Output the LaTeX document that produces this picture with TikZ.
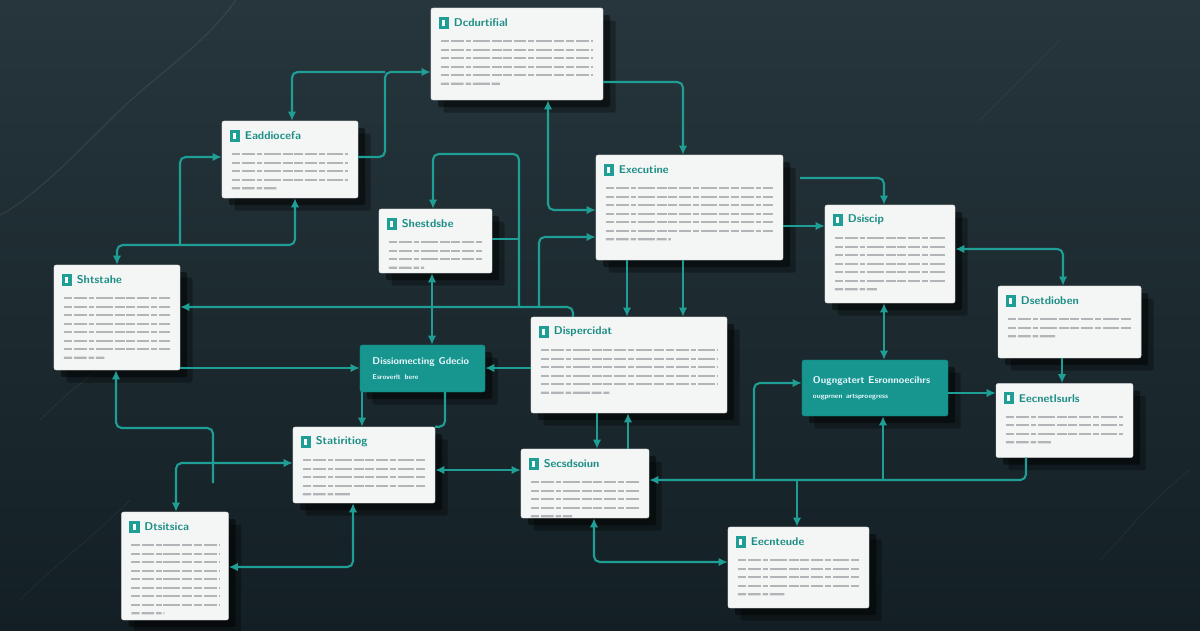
\documentclass[tikz,border=0pt]{standalone}
\usepackage{tikz}
\usetikzlibrary{arrows.meta,positioning,calc,shadows,backgrounds}
\definecolor{bgtop}{RGB}{38,54,60}
\definecolor{bgbot}{RGB}{19,31,36}
\definecolor{tealline}{RGB}{30,158,148}
\definecolor{tealbox}{RGB}{22,150,143}
\definecolor{cardwhite}{RGB}{244,245,245}
\definecolor{bodygray}{RGB}{178,181,183}

\begin{document}
\begin{tikzpicture}[
    x=0.025cm, y=-0.025cm,
    >={Latex[length=6.5pt,width=6pt]},
    font=\bfseries\footnotesize\sffamily,
    card/.style={
		rectangle,
		rounded corners=1.5pt,
		fill=cardwhite,
		draw=black!15,
		line width=0.3pt,
		inner sep=0pt,
		drop shadow={shadow xshift=9pt, shadow yshift=-9pt, opacity=0.3, fill=black},
		drop shadow={shadow xshift=5pt, shadow yshift=-5pt, opacity=0.45, fill=black}
	},
    tealcard/.style={
		card,
		fill=tealbox,
		draw=tealbox!80!black,
		text=cyan!8,
		align=left,
		inner sep=0pt
	},
    cardicon/.style={
		rectangle,
		fill=tealline,
		minimum width=7.5pt,
		minimum height=8.5pt,
		inner sep=0pt,
		path picture={\fill[white] ([xshift=-1pt,yshift=-2pt]path picture bounding box.center) rectangle ++(2pt,4pt);}
	},
    cardtitle/.style={
		text=tealline!90!black,
		inner sep=0pt,
		anchor=west
	},
    bodyline/.style={
		draw=bodygray,
		line width=1.5pt,
		dash pattern=on 6pt off 1.3pt on 9pt off 1.3pt on 4pt off 1.3pt on 12pt off 1.3pt on 7pt off 1.3pt
	},
    link/.style={
		draw=tealline,
		line width=1.5pt,
		rounded corners=4pt
	}
  ]
    % background and a few scratches
  \useasboundingbox (0,0) rectangle (1200,630);
  \shade[top color=bgtop, bottom color=bgbot] (0,0) rectangle (1200,630);
  \draw[white, opacity=0.08, line width=0.8pt] (236,0) .. controls (200,50) and (160,70) .. (110,120) .. controls (70,160) and (30,200) .. (0,215);
  \draw[white, opacity=0.06, line width=0.6pt] (40,420) .. controls (80,380) and (110,360) .. (160,330);
  \draw[white, opacity=0.06, line width=0.6pt] (980,120) .. controls (1010,90) and (1030,70) .. (1060,40);
  \draw[white, opacity=0.05, line width=0.6pt] (1100,560) .. controls (1130,530) and (1150,500) .. (1190,470);
  \draw[white, opacity=0.05, line width=0.6pt] (20,600) .. controls (60,560) and (90,540) .. (130,500);

    % the cards
  \node [card, minimum width=4.3cm, minimum height=2.3cm] (A) at (517,54) {};
  \node [card, minimum width=3.4cm, minimum height=1.925cm] (B) at (290,159.5) {};
  \node [card, minimum width=3.15cm, minimum height=2.625cm] (C) at (117,317.5) {};
  \node [card, minimum width=2.825cm, minimum height=1.6cm] (D) at (435.5,241) {};
  \node [card, minimum width=4.675cm, minimum height=2.625cm] (E) at (689.5,207.5) {};
  \node [card, minimum width=3.25cm, minimum height=2.45cm] (F) at (890,254) {};
  \node [card, minimum width=3.575cm, minimum height=1.8cm] (G) at (1069.5,322) {};
  \node [card, minimum width=4.9cm, minimum height=2.4cm] (I) at (629,365) {};
  \node [card, minimum width=3.425cm, minimum height=1.85cm] (K) at (1064.5,420.5) {};
  \node [card, minimum width=3.55cm, minimum height=1.9cm] (L) at (364,465) {};
  \node [card, minimum width=3.2cm, minimum height=1.725cm] (M) at (585,483.5) {};
  \node [card, minimum width=2.675cm, minimum height=2.7cm] (N) at (175,566) {};
  \node [card, minimum width=3.525cm, minimum height=2.025cm] (O) at (798.5,567.5) {};

  \node [tealcard, minimum width=3.125cm, minimum height=1.175cm, text width=2.5cm] (H) at (422.5,368.5)
 {%
  \scriptsize Dissiomecting Gdecio\\[1pt]
  \tiny Esroverlt bere
 };
  \node [tealcard, minimum width=3.65cm, minimum height=1.4cm, text width=3.1cm] (J) at (875,388)
 {%
  \scriptsize Ougngatert Esronnoecihrs\\[1pt]
  \tiny ougprnen artsproegress
 };

    % icon, title and text lines of each card
  \foreach \n/\t/\k in {A/Dcdurtifial/6, B/Eaddiocefa/5, C/Shtstahe/8, D/Shestdsbe/4,
      E/Executine/7, F/Dsiscip/7, G/Dsetdioben/3, I/Dispercidat/6, K/Eecnetlsurls/4,
      L/Statiritiog/5, M/Secsdsoiun/5, N/Dtsitsica/9, O/Eecnteude/5}{
    \node [cardicon] (\n-ic) at ($(\n.north west)+(13,15)$) {};
    \node [cardtitle, right=3pt of \n-ic] {\t};
    \foreach \i in {1,...,\k}{
      \ifnum\i<\k
        \draw [bodyline] ($(\n.north west)+(10,{25+8.5*\i})$) -- ($(\n.north east)+(-10,{25+8.5*\i})$);
      \else
        \draw [bodyline] ($(\n.north west)+(10,{25+8.5*\i})$) -- ($(\n.north west)!0.4!(\n.north east)+(0,{25+8.5*\i})$);
      \fi
    }
  }

    % connectors
  \coordinate (jab) at (385,72);
  \draw [link,->] (B.east |- 0,157) -| (jab) -- (A.west |- 0,72);
  \draw [link,->] (jab) -| (B.north -| 292,0);
  \draw [link,->] (A.east |- 0,82) -| (E.north -| 683,0);
  \draw [link,<->] (A.south -| 548,0) |- (E.west |- 0,210);

  \coordinate (jbc) at (180,245);
  \draw [link,<->] (C.north -| 117,0) -- (117,245) -| (B.south -| 295,0);
  \draw [link,->] (jbc) |- (B.west |- 0,157);

  \coordinate (jcd) at (519,307);
  \draw [link,->] (jcd) |- (433,154) -- (D.north -| 433,0);
  \draw [link] (D.east |- 0,239) -- (519,239);
  \draw [link,->] (I.north -| 573,0) |- (C.east |- 0,307);
  \draw [link,->] (539,307) |- (E.west |- 0,237);

  \draw [link,->] (E.east |- 0,226) -- (F.west |- 0,226);
  \draw [link,->] ([xshift=12pt]E.east |- 0,178) -| (F.north -| 884,0);
  \draw [link,->] (E.south -| 627,0) -- (I.north -| 627,0);
  \draw [link,->] (E.south -| 683,0) -- (I.north -| 683,0);

  \draw [link,<->] (F.east |- 0,249) -| (G.north -| 1063,0);
  \draw [link,<->] (F.south -| 884,0) -- (J.north -| 884,0);
  \draw [link,->] (G.south -| 1062,0) -- (K.north -| 1062,0);
  \draw [link,->] (J.east |- 0,393) -- (K.west |- 0,393);

  \draw [link,->] (K.south -| 1026,0) |- (M.east |- 0,480);
  \draw [link,->] (754,480) |- (J.west |- 0,383);
  \draw [link,->] (797,480) -- (O.north -| 797,0);
  \draw [link,->] (883,480) -- (J.south -| 883,0);
  \draw [link,<->] (M.south -| 594,0) |- (O.west |- 0,562);
  \draw [link,->] (I.south -| 597,0) -- (M.north -| 597,0);
  \draw [link,->] (M.north -| 628,0) -- (I.south -| 628,0);

  \draw [link,->] (I.west |- 0,368) -- (H.east |- 0,368);
  \draw [link,->] (C.east |- 0,368) -- (H.west |- 0,368);
  \draw [link,<->] (D.south -| 432,0) -- (H.north -| 432,0);
  \draw [link,->] (H.south -| 362,0) -- (L.north -| 362,0);
  \draw [link] (H.south -| 445,0) |- (L.north east);

  \coordinate (jcl) at (213,483);
  \draw [link,<->] (L.west |- 0,463) -| (N.north -| 176,0);
  \draw [link,->] (jcl) |- (116,428) -- (C.south -| 116,0);
  \draw [link,<->] (L.east |- 0,470) -- (M.west |- 0,470);
  \draw [link,<->] (N.east |- 0,567) -| (L.south -| 353,0);

\end{tikzpicture}
\end{document}
